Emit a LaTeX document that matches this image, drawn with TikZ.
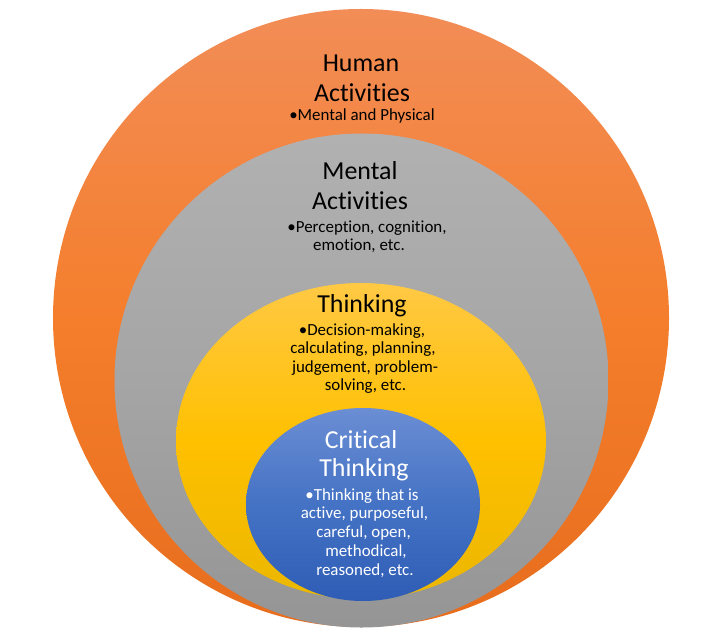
\documentclass[tikz,border=0pt]{standalone}
\usepackage{fontspec}
\setmainfont{Carlito}[Ligatures={NoCommon}]
\usetikzlibrary{shapes.geometric}
\definecolor{orT}{HTML}{F28D57}
\definecolor{orM}{HTML}{F47E2C}
\definecolor{orB}{HTML}{E76D1D}
\definecolor{grT}{HTML}{B1B1B1}
\definecolor{grM}{HTML}{A5A5A5}
\definecolor{grB}{HTML}{959595}
\definecolor{yeT}{HTML}{FFC944}
\definecolor{yeM}{HTML}{FFC000}
\definecolor{yeB}{HTML}{EBB700}
\definecolor{blT}{HTML}{6B8ED4}
\definecolor{blM}{HTML}{4472C4}
\definecolor{blB}{HTML}{2F5DB6}
\begin{document}
\begin{tikzpicture}[x=1bp,y=-1bp,
  ring/.style={ellipse, inner sep=0pt, draw=none},
  ttl/.style={anchor=base, inner sep=0pt, font=\fontsize{26}{30}\selectfont},
  bul/.style={anchor=base, inner sep=0pt, font=\fontsize{17}{19}\selectfont}]
\useasboundingbox (0,0) rectangle (717,640);
% rings
\node[ring, minimum width=616bp, minimum height=618bp, top color=orT, bottom color=orB, middle color=orM] (human) at (361,318) {};
\node[ring, minimum width=494bp, minimum height=494bp, top color=grT, bottom color=grB, middle color=grM] (mental) at (361.5,380.5) {};
\node[ring, minimum width=370bp, minimum height=316bp, top color=yeT, bottom color=yeB, middle color=yeM] (thinking) at (361,441) {};
\node[ring, minimum width=234bp, minimum height=193bp, top color=blT, bottom color=blB, middle color=blM] (critical) at (363,504.5) {};
% Human activities
\node[ttl] (h1) at (361,72) {Human};
\node[ttl] (h2) at (362,102) {Activities};
\node[bul] (h3) at (362,121) {\textbullet Mental and Physical};
% Mental activities
\node[ttl] (m1) at (360,180) {Mental};
\node[ttl] (m2) at (360,210) {Activities};
\node[bul] (m3) at (367,232) {\textbullet Perception, cognition,};
\node[bul] (m4) at (359,250) {emotion, etc.};
% Thinking
\node[ttl] (t1) at (362,312) {Thinking};
\node[bul] (t2) at (362,335) {\textbullet Decision-making,};
\node[bul] (t3) at (363,353.5) {calculating, planning,};
\node[bul] (t4) at (365,372) {judgement, problem-};
\node[bul] (t5) at (365.5,390.5) {solving, etc.};
% Critical thinking
\node[ttl, text=white] (c1) at (361,448) {Critical};
\node[ttl, text=white] (c2) at (364,476) {Thinking};
\node[bul, text=white] (c3) at (362,500) {\textbullet Thinking that is};
\node[bul, text=white] (c4) at (364.5,518.5) {active, purposeful,};
\node[bul, text=white] (c5) at (363.5,537) {careful, open,};
\node[bul, text=white] (c6) at (366,556) {methodical,};
\node[bul, text=white] (c7) at (365,575) {reasoned, etc.};
\end{tikzpicture}
\end{document}
